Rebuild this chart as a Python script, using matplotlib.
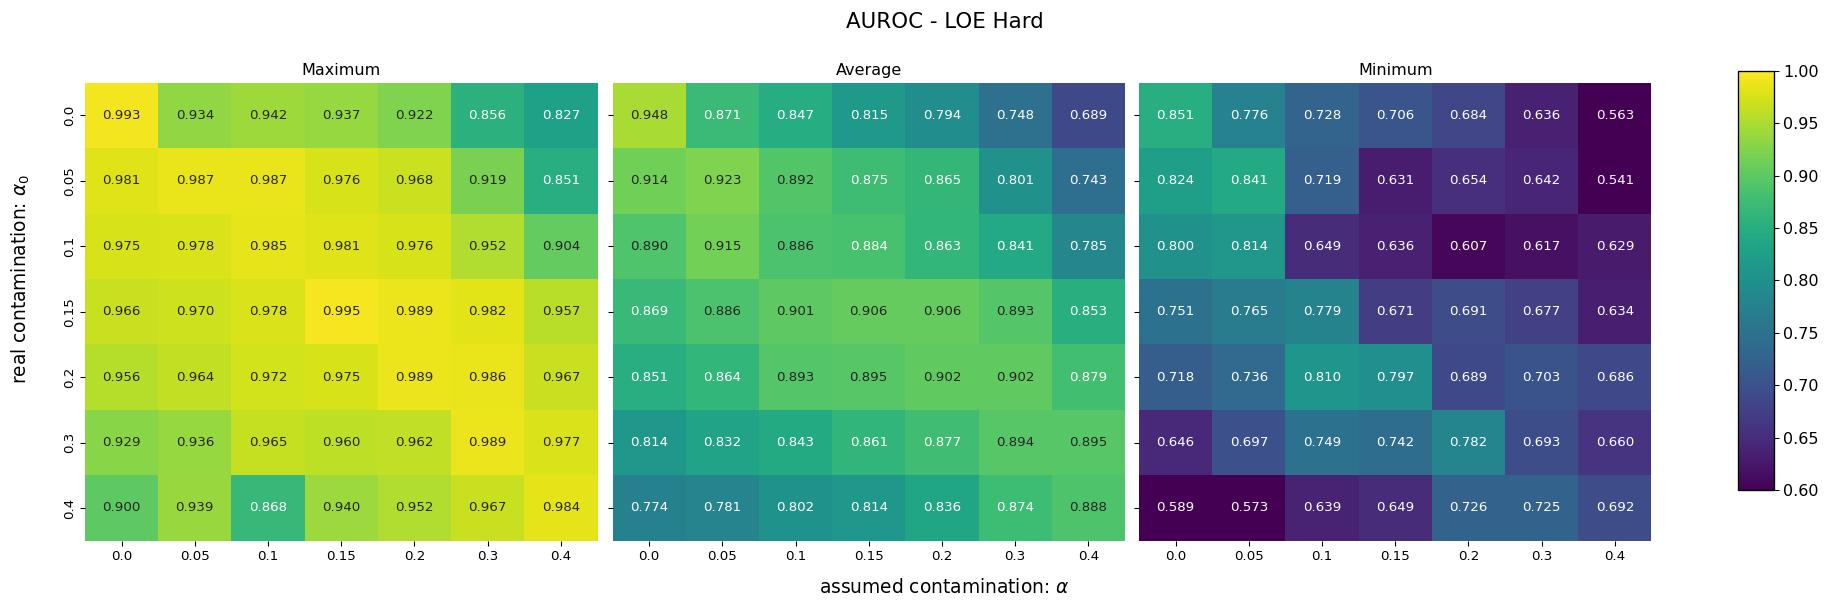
import matplotlib
matplotlib.use("Agg")
import matplotlib.pyplot as plt
import seaborn as sns
import numpy as np
from matplotlib.cm import ScalarMappable
from matplotlib.colors import Normalize

title = "AUROC - LOE Hard"
panel_titles = ["Maximum", "Average", "Minimum"]
row_labels = ["0.0", "0.05", "0.1", "0.15", "0.2", "0.3", "0.4"]
col_labels = ["0.0", "0.05", "0.1", "0.15", "0.2", "0.3", "0.4"]

max_vals = [
    [0.993, 0.934, 0.942, 0.937, 0.922, 0.856, 0.827],
    [0.981, 0.987, 0.987, 0.976, 0.968, 0.919, 0.851],
    [0.975, 0.978, 0.985, 0.981, 0.976, 0.952, 0.904],
    [0.966, 0.970, 0.978, 0.995, 0.989, 0.982, 0.957],
    [0.956, 0.964, 0.972, 0.975, 0.989, 0.986, 0.967],
    [0.929, 0.936, 0.965, 0.960, 0.962, 0.989, 0.977],
    [0.900, 0.939, 0.868, 0.940, 0.952, 0.967, 0.984],
]
avg_vals = [
    [0.948, 0.871, 0.847, 0.815, 0.794, 0.748, 0.689],
    [0.914, 0.923, 0.892, 0.875, 0.865, 0.801, 0.743],
    [0.890, 0.915, 0.886, 0.884, 0.863, 0.841, 0.785],
    [0.869, 0.886, 0.901, 0.906, 0.906, 0.893, 0.853],
    [0.851, 0.864, 0.893, 0.895, 0.902, 0.902, 0.879],
    [0.814, 0.832, 0.843, 0.861, 0.877, 0.894, 0.895],
    [0.774, 0.781, 0.802, 0.814, 0.836, 0.874, 0.888],
]
min_vals = [
    [0.851, 0.776, 0.728, 0.706, 0.684, 0.636, 0.563],
    [0.824, 0.841, 0.719, 0.631, 0.654, 0.642, 0.541],
    [0.800, 0.814, 0.649, 0.636, 0.607, 0.617, 0.629],
    [0.751, 0.765, 0.779, 0.671, 0.691, 0.677, 0.634],
    [0.718, 0.736, 0.810, 0.797, 0.689, 0.703, 0.686],
    [0.646, 0.697, 0.749, 0.742, 0.782, 0.693, 0.660],
    [0.589, 0.573, 0.639, 0.649, 0.726, 0.725, 0.692],
]

vmin, vmax = 0.6, 1.0
cmap = "viridis"

W, H = 1830, 606
DPI = 96
fig = plt.figure(figsize=(W / DPI, H / DPI), dpi=DPI)

lefts = [85 / W, 612.5 / W, 1139 / W]
ax_w = 512.5 / W
ax_b = 65.3 / H
ax_h = 458 / H

axes = [fig.add_axes([l, ax_b, ax_w, ax_h]) for l in lefts]
cax = fig.add_axes([1738 / W, 116 / H, 36 / W, 419.3 / H])

for i, (ax, data, t) in enumerate(zip(axes, [max_vals, avg_vals, min_vals], panel_titles)):
    sns.heatmap(np.array(data), ax=ax, cmap=cmap, vmin=vmin, vmax=vmax,
                annot=True, fmt=".3f", annot_kws={"fontsize": 10},
                cbar=False, xticklabels=col_labels, yticklabels=row_labels)
    ax.set_title(t, fontsize=12)
    ax.tick_params(axis="both", labelsize=10)
    plt.setp(ax.get_xticklabels(), rotation=0)
    if i == 0:
        plt.setp(ax.get_yticklabels(), rotation=90, va="center")
    else:
        ax.set_yticklabels([])
    ax.set_xlabel("")
    ax.set_ylabel("")

sm = ScalarMappable(norm=Normalize(vmin=vmin, vmax=vmax), cmap=cmap)
cb = fig.colorbar(sm, cax=cax)
cb.set_ticks([0.60, 0.65, 0.70, 0.75, 0.80, 0.85, 0.90, 0.95, 1.00])
cb.ax.set_yticklabels(["0.60", "0.65", "0.70", "0.75", "0.80", "0.85", "0.90", "0.95", "1.00"])
cb.ax.tick_params(labelsize=12)
cb.outline.set_linewidth(1.0)

fig.text(945 / W, 1 - 28 / H, title, fontsize=16, ha="center", va="baseline")
fig.text(944 / W, 1 - 593 / H, r"assumed contamination: $\alpha$",
         fontsize=14, ha="center", va="baseline")
fig.text(21 / W, 1 - 279 / H, r"real contamination: $\alpha_0$",
         fontsize=14, ha="center", va="center", rotation=90)

fig.savefig("out.png", dpi=DPI)
